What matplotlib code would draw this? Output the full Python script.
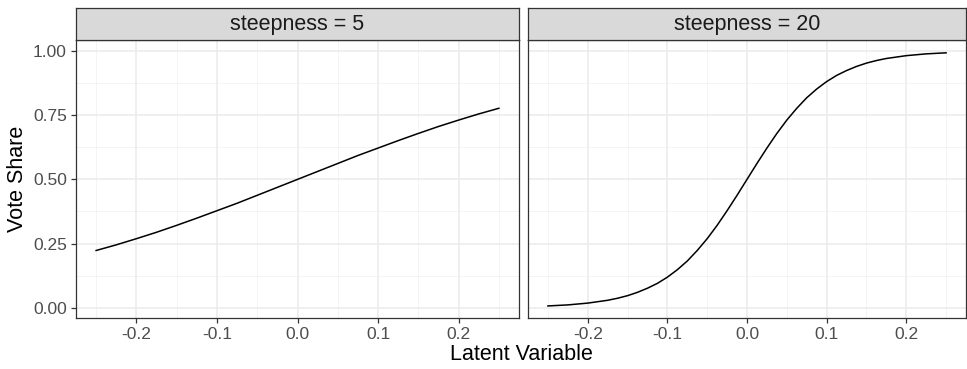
import numpy as np
import matplotlib
matplotlib.use("Agg")
import matplotlib.pyplot as plt

plt.rcParams['font.family'] = ['Liberation Sans', 'DejaVu Sans']

# ---- data ----
latent_k5 = [-0.25, -0.225, -0.2, -0.175, -0.15, -0.125, -0.1, -0.075, -0.05, -0.025, 0.0,
             0.025, 0.05, 0.075, 0.1, 0.125, 0.15, 0.175, 0.2, 0.225, 0.25]
share_k5 = [0.223, 0.245, 0.269, 0.294, 0.321, 0.349, 0.378, 0.407, 0.438, 0.469, 0.500,
            0.531, 0.562, 0.593, 0.622, 0.651, 0.679, 0.706, 0.731, 0.755, 0.777]
latent_k20 = [-0.25, -0.225, -0.2, -0.175, -0.1625, -0.15, -0.1375, -0.125, -0.1125, -0.1,
              -0.0875, -0.075, -0.0625, -0.05, -0.0375, -0.025, -0.0125, 0.0,
              0.0125, 0.025, 0.0375, 0.05, 0.0625, 0.075, 0.0875, 0.1, 0.1125, 0.125,
              0.1375, 0.15, 0.1625, 0.175, 0.2, 0.225, 0.25]
share_k20 = [0.007, 0.011, 0.018, 0.029, 0.037, 0.047, 0.060, 0.076, 0.095, 0.119,
             0.148, 0.182, 0.223, 0.269, 0.321, 0.378, 0.438, 0.500,
             0.562, 0.622, 0.679, 0.731, 0.777, 0.818, 0.852, 0.881, 0.905, 0.924,
             0.940, 0.953, 0.963, 0.971, 0.982, 0.989, 0.993]
panel_titles = ["steepness = 5", "steepness = 20"]
xticks = [-0.2, -0.1, 0.0, 0.1, 0.2]
xminor = [-0.25, -0.15, -0.05, 0.05, 0.15, 0.25]
yticks = [0.0, 0.25, 0.5, 0.75, 1.0]
yminor = [0.125, 0.375, 0.625, 0.875]

W, H = 967, 369
fig = plt.figure(figsize=(W / 100, H / 100), dpi=100)

def box(x0, y0, x1, y1):
    # pixel box (top-left origin) -> figure fraction
    return [x0 / W, 1 - y1 / H, (x1 - x0) / W, (y1 - y0) / H]

panels = [(76, 519), (528, 966)]
top, strip_top, bottom = 40, 8, 318
ylim = (-0.04, 1.043)
xlim = (-0.275, 0.275)
series = [(latent_k5, share_k5), (latent_k20, share_k20)]

for i, ((x0, x1), (xs, ys), title) in enumerate(zip(panels, series, panel_titles)):
    ax = fig.add_axes(box(x0, top, x1, bottom))
    ax.set_xlim(*xlim); ax.set_ylim(*ylim)
    for v in xminor:
        ax.axvline(v, color="#F2F2F2", lw=0.6, zorder=0)
    for v in yminor:
        ax.axhline(v, color="#F2F2F2", lw=0.6, zorder=0)
    for v in xticks:
        ax.axvline(v, color="#EBEBEB", lw=1.1, zorder=0)
    for v in yticks:
        ax.axhline(v, color="#EBEBEB", lw=1.1, zorder=0)
    ax.plot(xs, ys, color="black", lw=1.1, zorder=2)
    ax.set_xticks(xticks)
    ax.set_xticklabels(["-0.2", "-0.1", "0.0", "0.1", "0.2"])
    ax.set_yticks(yticks)
    if i == 0:
        ax.set_yticklabels(["0.00", "0.25", "0.50", "0.75", "1.00"])
        ax.set_ylabel("Vote Share", fontsize=15.5, color="black", labelpad=4)
    else:
        ax.tick_params(axis="y", left=False, labelleft=False)
    ax.tick_params(colors="#333333", labelcolor="#4D4D4D", labelsize=12.5,
                   length=3.5, width=0.9, pad=3)
    for s in ax.spines.values():
        s.set_color("#333333"); s.set_linewidth(0.9)

    st = fig.add_axes(box(x0, strip_top, x1, top))
    st.set_facecolor("#D9D9D9")
    st.set_xticks([]); st.set_yticks([])
    for s in st.spines.values():
        s.set_color("#333333"); s.set_linewidth(0.9)
    st.text(0.5, 0.48, title, ha="center", va="center", fontsize=15.5,
            color="#1A1A1A", transform=st.transAxes)

fig.text((76 + 966) / 2 / W, 1 - 355 / H, "Latent Variable", ha="center", va="center",
         fontsize=15.5, color="black")

fig.savefig("out.png", dpi=100)
